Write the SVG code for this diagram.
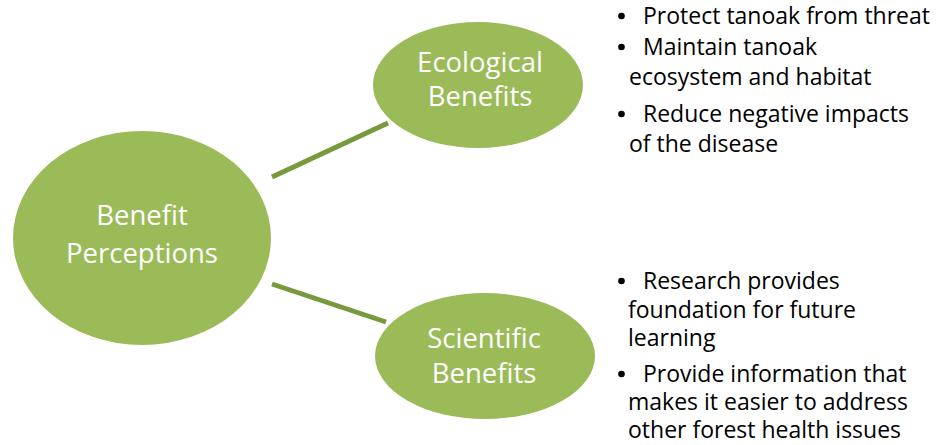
<svg xmlns="http://www.w3.org/2000/svg" width="939" height="445" viewBox="0 0 939 445">
  <style>
    .bubble { fill: #9BBB59; }
    .link { stroke: #789A3C; stroke-width: 5; fill: none; }
    .label { font-family: "Open Sans", "Noto Sans", sans-serif; font-size: 27.5px; fill: #FFFFFF; text-anchor: middle; }
    .note { font-family: "Open Sans", "Noto Sans", sans-serif; font-size: 23px; fill: #000000; }
    .dot { fill: #000000; }
  </style>
  <rect width="939" height="445" fill="#FFFFFF"/>

  <!-- connectors from the central idea to the two branches -->
  <g id="connectors">
    <line class="link" x1="272" y1="177" x2="388" y2="123"/>
    <line class="link" x1="272" y1="284" x2="386" y2="322"/>
  </g>

  <g id="benefit-perceptions">
    <ellipse class="bubble" cx="142" cy="238" rx="129" ry="107"/>
    <text class="label" x="142" y="225">Benefit</text>
    <text class="label" x="142" y="263">Perceptions</text>
  </g>

  <g id="ecological-benefits">
    <ellipse class="bubble" cx="478" cy="85" rx="105" ry="63"/>
    <text class="label" x="480" y="72">Ecological</text>
    <text class="label" x="480" y="106">Benefits</text>
  </g>

  <g id="scientific-benefits">
    <ellipse class="bubble" cx="485" cy="356" rx="110" ry="63"/>
    <text class="label" x="484" y="348">Scientific</text>
    <text class="label" x="484" y="383">Benefits</text>
  </g>

  <!-- bullet notes beside each branch; list markers are small filled dots -->
  <g id="ecological-notes">
    <circle class="dot" cx="621.5" cy="16" r="3.3"/>
    <text class="note" x="643" y="24">Protect tanoak from threat</text>
    <circle class="dot" cx="621.5" cy="47" r="3.3"/>
    <text class="note" x="643" y="55">Maintain tanoak</text>
    <text class="note" x="629" y="85">ecosystem and habitat</text>
    <circle class="dot" cx="621.5" cy="114" r="3.3"/>
    <text class="note" x="643" y="122">Reduce negative impacts</text>
    <text class="note" x="629" y="152">of the disease</text>
  </g>

  <g id="scientific-notes">
    <circle class="dot" cx="621.5" cy="281" r="3.3"/>
    <text class="note" x="643" y="289">Research provides</text>
    <text class="note" x="628" y="318">foundation for future</text>
    <text class="note" x="628" y="346">learning</text>
    <circle class="dot" cx="621.5" cy="374" r="3.3"/>
    <text class="note" x="643" y="382">Provide information that</text>
    <text class="note" x="628" y="410">makes it easier to address</text>
    <text class="note" x="628" y="438">other forest health issues</text>
  </g>
</svg>
